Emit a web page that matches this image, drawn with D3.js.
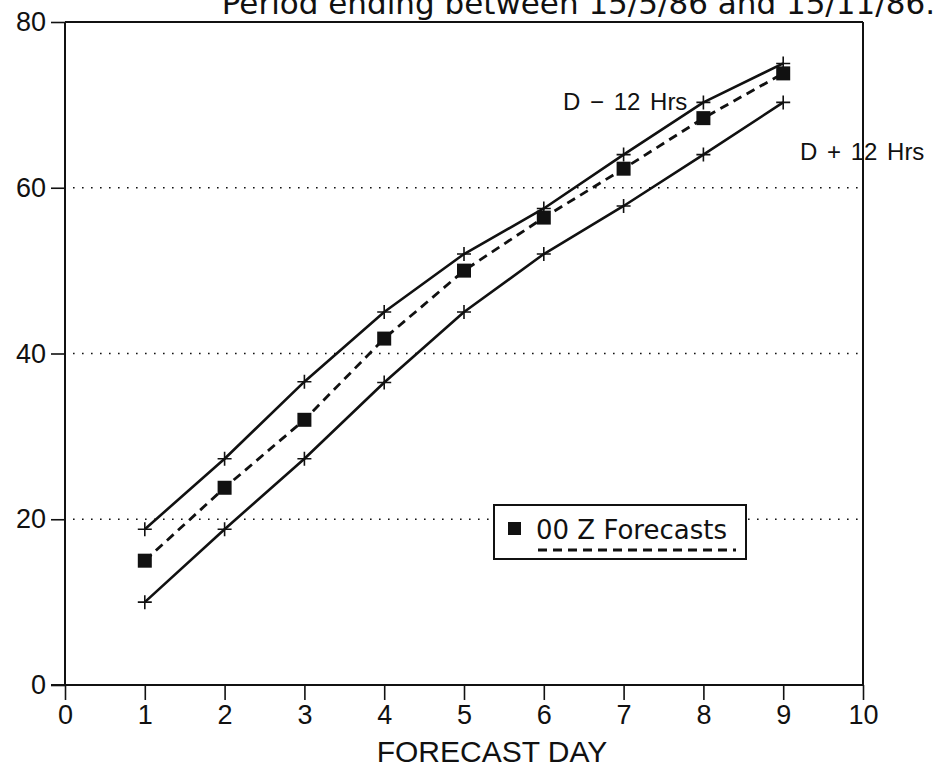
<!DOCTYPE html>
<html><head><meta charset="utf-8">
<script src="https://cdn.jsdelivr.net/npm/d3@7"></script>
<style>body{margin:0;background:#fff}svg{display:block}</style>
</head><body>
<svg id="c" width="938" height="775"></svg>
<script>
const days = [1,2,3,4,5,6,7,8,9];
const dMinus12 = [18.8,27.3,36.6,45.0,52.0,57.5,64.0,70.3,75.0];
const forecast00Z = [15.0,23.8,32.0,41.8,50.0,56.4,62.3,68.4,73.8];
const dPlus12 = [10.0,18.8,27.3,36.5,45.0,52.0,57.8,64.0,70.3];
const xTicks = [0,1,2,3,4,5,6,7,8,9,10];
const yTicks = [0,20,40,60,80];
const gridValues = [20,40,60];
const titleText = "Period ending between 15/5/86 and 15/11/86.";
const xLabel = "FORECAST DAY";
const legendLabel = "00 Z Forecasts";
const labelMinus = "D \u2212 12 Hrs";
const labelPlus = "D + 12 Hrs";

const svg = d3.select("#c");
const x = d3.scaleLinear().domain([0,10]).range([65,863]);
const y = d3.scaleLinear().domain([0,80]).range([685,22]);
const ink = "#111";
const narrow = "Liberation Sans Narrow, Liberation Sans";

// title (partly cut at top, as in the scan)
svg.append("text").attr("x",935).attr("y",14).attr("text-anchor","end")
  .attr("font-family","DejaVu Sans").attr("font-size",31).attr("fill",ink).text(titleText);

// gridlines
svg.append("g").selectAll("line").data(gridValues).join("line")
  .attr("x1",x(0)+8).attr("x2",x(10)).attr("y1",d=>y(d)).attr("y2",d=>y(d))
  .attr("stroke",ink).attr("stroke-width",1.6).attr("stroke-dasharray","1.6,7.4");

// frame top and right
svg.append("line").attr("x1",x(0)).attr("x2",x(10)).attr("y1",y(80)).attr("y2",y(80)).attr("stroke",ink).attr("stroke-width",2);
svg.append("line").attr("x1",x(10)).attr("x2",x(10)).attr("y1",y(80)).attr("y2",y(0)).attr("stroke",ink).attr("stroke-width",2);

// axes
const yAxis = d3.axisLeft(y).tickValues(yTicks).tickSize(14).tickPadding(5).tickFormat(d3.format("d"));
const gy = svg.append("g").attr("transform",`translate(${x(0)},0)`).call(yAxis);
const xAxis = d3.axisBottom(x).tickValues(xTicks).tickSize(15).tickPadding(5).tickFormat(d3.format("d"));
const gx = svg.append("g").attr("transform",`translate(0,${y(0)})`).call(xAxis);
[gx,gy].forEach(g=>{
  g.select(".domain").attr("stroke",ink).attr("stroke-width",2);
  g.selectAll(".tick line").attr("stroke",ink).attr("stroke-width",1.6);
  g.selectAll(".tick text").attr("font-family",narrow).attr("font-size",27).attr("fill",ink);
});
gy.select(".domain").attr("d",`M0,${y(80)}V${y(0)}`);
gx.select(".domain").attr("d",`M${x(0)-14},0H${x(10)}`);

svg.append("text").attr("x",492).attr("y",762).attr("text-anchor","middle")
  .attr("font-family",narrow).attr("font-size",30).attr("fill",ink).text(xLabel);

// lines
const line = vals => d3.line().x((d,i)=>x(days[i])).y(d=>y(d))(vals);
svg.append("path").attr("d",line(dMinus12)).attr("fill","none").attr("stroke",ink).attr("stroke-width",2.6).attr("stroke-linejoin","round");
svg.append("path").attr("d",line(dPlus12)).attr("fill","none").attr("stroke",ink).attr("stroke-width",2.6).attr("stroke-linejoin","round");
svg.append("path").attr("d",line(forecast00Z)).attr("fill","none").attr("stroke",ink).attr("stroke-width",2.8).attr("stroke-dasharray","9,6");

// plus markers
[dMinus12,dPlus12].forEach(vals=>{
  svg.append("g").selectAll("path").data(vals).join("path")
    .attr("d",(d,i)=>`M${x(days[i])-7},${y(d)}h14M${x(days[i])},${y(d)-7}v14`)
    .attr("stroke",ink).attr("stroke-width",1.6).attr("fill","none");
});
// squares
svg.append("g").selectAll("rect").data(forecast00Z).join("rect")
  .attr("x",(d,i)=>x(days[i])-7).attr("y",d=>y(d)-7).attr("width",14).attr("height",14).attr("fill",ink);

// labels
svg.append("text").attr("x",563).attr("y",110).attr("font-family","Liberation Sans").attr("font-size",24)
  .attr("word-spacing",3).attr("fill",ink).text(labelMinus);
svg.append("text").attr("x",800).attr("y",160).attr("font-family","Liberation Sans").attr("font-size",24)
  .attr("word-spacing",3).attr("fill",ink).text(labelPlus);

// legend
const lg = svg.append("g");
lg.append("rect").attr("x",494).attr("y",505).attr("width",252).attr("height",54).attr("fill","#fff").attr("stroke",ink).attr("stroke-width",2);
lg.append("rect").attr("x",508).attr("y",522).attr("width",13).attr("height",13).attr("fill",ink);
lg.append("text").attr("x",536).attr("y",539).attr("font-family","DejaVu Sans").attr("font-size",26).attr("fill",ink).text(legendLabel);
lg.append("line").attr("x1",538).attr("x2",736).attr("y1",550).attr("y2",550).attr("stroke",ink).attr("stroke-width",2.8).attr("stroke-dasharray","9,6");
</script>
</body></html>
